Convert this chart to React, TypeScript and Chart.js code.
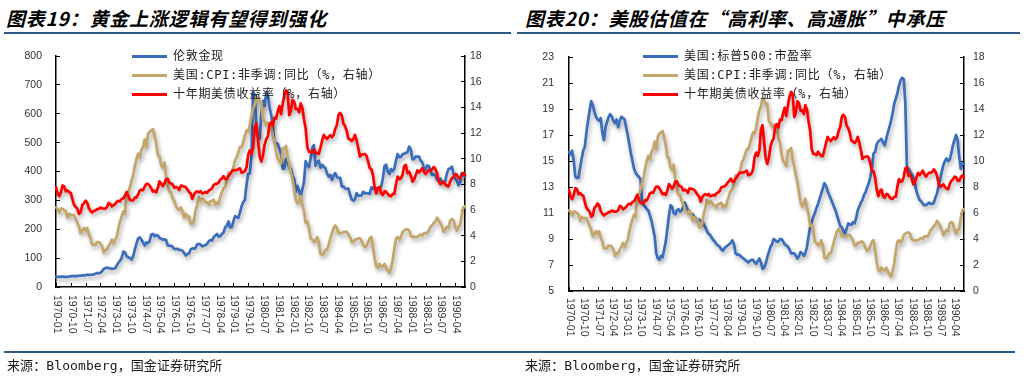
import React, { useEffect, useRef } from 'react';
import { Chart, registerables } from 'chart.js';

Chart.register(...registerables);

// ---------- categories (monthly, 1970-01 .. 1990-10) ----------
const FIRST_YEAR = 1970;
const MONTH_COUNT = 250;
const monthLabels: string[] = Array.from(
  { length: MONTH_COUNT },
  (_, i) => `${FIRST_YEAR + Math.floor(i / 12)}-${String((i % 12) + 1).padStart(2, '0')}`
);
const LABEL_EVERY = 9; // a tick label every 9 months

// ---------- series ----------
// 伦敦金现 (USD/oz)
const goldLondon = [
  34.9, 35.0, 35.1, 35.6, 35.9, 35.4, 35.3, 35.4, 36.2, 37.5, 37.4, 37.4,
  37.9, 38.7, 38.9, 39.0, 40.5, 40.1, 41.0, 42.7, 42.0, 42.5, 42.9, 43.5,
  45.8, 48.3, 48.3, 49.0, 54.6, 62.1, 65.7, 67.0, 65.5, 64.9, 62.9, 63.9,
  65.1, 74.2, 84.4, 90.5, 102.0, 122.5, 120.2, 106.8, 103.0, 100.1, 94.8, 106.7,
  129.2, 150.2, 168.4, 172.2, 163.3, 154.1, 143.0, 154.6, 151.8, 158.8, 181.7, 183.9,
  176.3, 179.6, 178.2, 170.1, 167.0, 164.2, 165.2, 163.1, 144.0, 142.8, 142.8, 139.3,
  131.6, 130.9, 132.6, 128.2, 128.1, 125.8, 117.6, 109.3, 114.3, 116.0, 130.3, 133.6,
  132.3, 136.4, 148.2, 149.2, 146.8, 140.8, 143.2, 144.7, 149.2, 158.5, 162.5, 160.5,
  173.2, 178.2, 183.7, 175.3, 176.3, 183.7, 188.7, 206.0, 212.0, 227.3, 206.1, 207.8,
  227.3, 245.7, 242.1, 239.2, 257.6, 279.1, 294.7, 300.8, 355.1, 391.7, 392.5, 455.1,
  675.3, 665.3, 553.6, 517.4, 513.8, 600.7, 645.0, 627.0, 673.6, 661.1, 623.5, 594.9,
  557.6, 500.5, 498.8, 495.8, 479.7, 460.8, 409.3, 410.1, 443.1, 437.8, 413.4, 410.1,
  384.1, 374.3, 330.5, 350.4, 333.7, 314.3, 339.0, 364.2, 435.6, 422.4, 414.8, 444.3,
  480.6, 491.6, 419.7, 432.8, 437.4, 413.0, 422.6, 416.5, 411.8, 393.6, 381.7, 388.3,
  370.9, 386.0, 394.6, 381.5, 377.5, 378.0, 347.7, 348.2, 341.1, 340.2, 341.2, 320.2,
  303.0, 298.9, 304.1, 325.3, 316.3, 316.7, 317.4, 329.7, 324.0, 325.2, 324.6, 322.4,
  345.4, 339.2, 345.6, 340.5, 342.2, 342.6, 348.7, 376.0, 418.9, 423.5, 398.4, 391.3,
  408.2, 401.0, 409.3, 438.4, 460.4, 449.6, 450.5, 460.3, 460.9, 465.2, 467.1, 486.3,
  477.3, 442.2, 443.6, 451.9, 451.4, 451.6, 437.5, 431.5, 413.4, 406.8, 420.8, 418.8,
  404.0, 388.0, 390.3, 384.5, 371.0, 367.6, 374.9, 365.1, 362.0, 367.1, 393.6, 409.2,
  410.1, 416.8, 393.1, 374.3, 369.0, 352.3, 362.5, 394.8, 389.3, 380.7,
];

// 美国:CPI:非季调:同比 (%)
const cpiYoY = [
  6.2, 6.1, 5.8, 6.1, 6.1, 6.0, 5.9, 5.4, 5.7, 5.6, 5.6, 5.6,
  5.3, 5.0, 4.7, 4.2, 4.4, 4.6, 4.4, 4.6, 4.1, 3.8, 3.3, 3.3,
  3.3, 3.5, 3.5, 3.4, 3.2, 2.7, 2.9, 2.9, 3.2, 3.4, 3.7, 3.4,
  3.7, 3.9, 4.6, 5.1, 5.5, 5.9, 5.7, 7.4, 7.4, 7.8, 8.3, 8.7,
  9.4, 10.0, 10.4, 10.1, 10.7, 10.9, 11.5, 10.9, 11.9, 12.1, 12.2, 12.3,
  11.8, 11.2, 10.3, 10.2, 9.5, 9.3, 9.7, 8.6, 7.9, 7.4, 7.4, 6.9,
  6.7, 6.3, 6.1, 6.0, 6.2, 5.9, 5.4, 5.7, 5.5, 5.5, 4.9, 4.9,
  5.2, 6.0, 6.4, 7.0, 6.7, 6.9, 6.8, 6.6, 6.6, 6.4, 6.7, 6.7,
  6.8, 6.4, 6.6, 6.5, 7.0, 7.4, 7.7, 7.8, 8.3, 8.9, 8.9, 9.0,
  9.3, 9.9, 10.1, 10.5, 10.9, 10.9, 11.3, 11.8, 12.2, 12.1, 12.6, 13.3,
  13.9, 14.2, 14.8, 14.7, 14.4, 14.4, 13.1, 12.9, 12.6, 12.8, 12.6, 12.5,
  11.8, 11.4, 10.5, 10.0, 9.8, 9.6, 10.8, 10.8, 11.0, 10.1, 9.6, 8.9,
  8.4, 7.6, 6.8, 6.5, 6.7, 7.1, 6.4, 5.9, 5.0, 5.1, 4.6, 3.8,
  3.7, 3.5, 3.6, 3.9, 3.5, 2.6, 2.5, 2.6, 2.9, 2.9, 3.3, 3.8,
  4.2, 4.6, 4.8, 4.6, 4.2, 4.2, 4.2, 4.3, 4.3, 4.3, 4.1, 3.9,
  3.5, 3.5, 3.7, 3.7, 3.8, 3.8, 3.6, 3.3, 3.1, 3.2, 3.5, 3.8,
  3.9, 3.1, 2.2, 1.6, 1.5, 1.8, 1.6, 1.6, 1.8, 1.5, 1.3, 1.1,
  1.5, 2.1, 3.0, 3.8, 3.9, 3.7, 3.9, 4.3, 4.4, 4.5, 4.5, 4.4,
  4.0, 3.9, 3.9, 3.9, 3.9, 4.0, 4.1, 4.0, 4.2, 4.2, 4.2, 4.4,
  4.7, 4.8, 5.0, 5.1, 5.4, 5.2, 5.0, 4.7, 4.3, 4.5, 4.7, 4.6,
  5.2, 5.3, 5.2, 4.7, 4.4, 4.7, 4.8, 5.6, 6.2, 6.3,
];

// 十年期美债收益率 (%)
const ust10y = [
  7.79, 7.24, 7.07, 7.39, 7.91, 7.84, 7.46, 7.53, 7.39, 7.33, 6.84, 6.39,
  6.24, 6.11, 5.70, 5.83, 6.39, 6.52, 6.73, 6.58, 6.14, 5.93, 5.81, 5.93,
  5.95, 6.08, 6.07, 6.19, 6.13, 6.11, 6.11, 6.21, 6.55, 6.48, 6.28, 6.36,
  6.46, 6.64, 6.71, 6.67, 6.85, 6.90, 7.13, 7.40, 7.09, 6.79, 6.73, 6.74,
  6.99, 6.96, 7.21, 7.51, 7.58, 7.54, 7.81, 8.04, 8.04, 7.90, 7.68, 7.43,
  7.50, 7.39, 7.73, 8.23, 8.06, 7.86, 8.06, 8.40, 8.43, 8.14, 8.05, 8.00,
  7.74, 7.79, 7.73, 7.56, 7.90, 7.86, 7.83, 7.77, 7.59, 7.41, 7.29, 6.87,
  7.21, 7.39, 7.46, 7.37, 7.46, 7.28, 7.33, 7.40, 7.34, 7.52, 7.58, 7.69,
  7.96, 8.03, 8.04, 8.15, 8.35, 8.46, 8.64, 8.41, 8.42, 8.64, 8.81, 9.01,
  9.10, 9.10, 9.12, 9.18, 9.25, 8.91, 8.95, 9.03, 9.33, 10.30, 10.65, 10.39,
  10.80, 12.41, 12.75, 11.47, 10.18, 9.78, 10.25, 11.10, 11.51, 11.75, 12.68, 12.84,
  12.57, 13.19, 13.12, 13.68, 14.10, 13.47, 14.28, 14.94, 15.32, 15.15, 13.39, 13.72,
  14.59, 14.43, 13.86, 13.87, 13.62, 14.30, 13.95, 13.06, 12.34, 10.91, 10.55, 10.54,
  10.46, 10.72, 10.51, 10.40, 10.38, 10.85, 11.38, 11.85, 11.65, 11.54, 11.69, 11.83,
  11.67, 11.84, 12.32, 12.63, 13.41, 13.56, 13.36, 12.72, 12.52, 12.16, 11.57, 11.50,
  11.38, 11.51, 11.86, 11.43, 10.85, 10.16, 10.31, 10.33, 10.37, 10.24, 9.78, 9.26,
  9.19, 8.70, 7.78, 7.30, 7.71, 7.80, 7.30, 7.17, 7.45, 7.43, 7.25, 7.11,
  7.08, 7.25, 7.25, 8.02, 8.61, 8.40, 8.45, 8.76, 9.42, 9.52, 8.86, 8.99,
  8.67, 8.21, 8.37, 8.72, 9.09, 8.92, 9.06, 9.26, 8.98, 8.80, 8.96, 9.11,
  9.09, 9.17, 9.36, 9.18, 8.86, 8.28, 8.02, 8.11, 8.19, 8.01, 7.87, 7.84,
  8.21, 8.47, 8.59, 8.79, 8.76, 8.48, 8.47, 8.75, 8.89, 8.72,
];

// 美国:标普500:市盈率
const spxPE = [
  15.7, 15.5, 15.8, 15.0, 13.8, 13.7, 13.7, 14.5, 15.2, 15.8, 16.1, 17.2,
  18.1, 18.9, 19.6, 19.3, 18.8, 18.4, 18.2, 18.1, 18.3, 17.2, 16.6, 17.6,
  18.0, 18.4, 18.6, 18.4, 18.1, 17.9, 18.2, 17.6, 18.1, 18.4, 18.3, 18.2,
  17.6, 17.0, 16.3, 15.6, 15.0, 14.4, 14.1, 13.9, 13.8, 13.6, 12.0, 11.6,
  11.5, 11.3, 11.2, 10.8, 10.4, 9.8, 9.2, 7.9, 7.5, 7.4, 7.7, 7.6,
  8.2, 8.8, 9.8, 10.8, 11.6, 11.5, 11.0, 10.9, 11.2, 11.3, 11.1, 11.2,
  11.5, 11.8, 11.5, 11.2, 11.0, 10.9, 10.9, 10.7, 10.6, 10.4, 10.5, 10.4,
  10.4, 10.1, 9.9, 9.6, 9.4, 9.3, 9.1, 8.9, 8.8, 8.6, 8.5, 8.4,
  8.2, 8.1, 8.3, 8.4, 8.5, 8.6, 8.7, 8.9, 8.6, 7.9, 7.8, 7.8,
  7.7, 7.6, 7.5, 7.4, 7.3, 7.2, 7.3, 7.4, 7.4, 7.2, 7.1, 7.3,
  7.5, 7.2, 6.7, 6.8, 7.1, 7.6, 8.0, 8.4, 8.6, 9.0, 8.9, 8.8,
  8.8, 9.0, 9.0, 8.8, 8.6, 8.5, 8.4, 8.2, 7.9, 7.9, 7.9, 7.7,
  7.5, 7.7, 8.0, 7.9, 7.7, 7.9, 8.4, 9.2, 9.9, 10.3, 10.7, 11.0,
  11.4, 11.7, 12.1, 12.5, 12.9, 13.3, 13.1, 12.7, 12.4, 12.1, 11.8, 11.5,
  11.2, 10.8, 10.4, 10.0, 9.9, 9.6, 9.4, 9.8, 10.2, 10.1, 10.1, 10.3,
  10.2, 10.6, 11.2, 11.5, 11.8, 12.0, 12.4, 12.6, 13.0, 13.3, 13.8, 14.5,
  15.6, 15.7, 16.3, 16.5, 16.6, 16.7, 16.4, 16.2, 16.7, 17.2, 17.6, 18.1,
  18.7, 19.4, 19.8, 20.2, 20.8, 21.2, 21.4, 21.3, 19.5, 14.6, 14.4, 14.2,
  14.0, 13.8, 13.3, 12.7, 12.3, 12.0, 11.9, 11.7, 11.6, 11.6, 11.7, 11.8,
  11.7, 11.7, 11.8, 12.2, 12.5, 13.1, 13.6, 14.2, 14.7, 15.0, 15.2, 15.0,
  15.1, 15.6, 16.2, 16.6, 17.0, 16.6, 15.3, 14.4, 14.8, 14.8,
];

// ---------- texts ----------
const TITLE_LEFT = '图表19：黄金上涨逻辑有望得到强化';
const TITLE_RIGHT = '图表20：美股估值在“高利率、高通胀”中承压';
const SOURCE_TEXT = '来源：Bloomberg，国金证券研究所';
const NAME_GOLD = '伦敦金现';
const NAME_PE = '美国:标普500:市盈率';
const NAME_CPI = '美国:CPI:非季调:同比（%，右轴）';
const NAME_YIELD = '十年期美债收益率（%，右轴）';

// ---------- styles ----------
const BLUE = '#3a6ebd';
const TAN = '#c4a66b';
const RED = '#ff0000';
const AXIS = '#000000';
const TICK_TEXT = '#333333';
const RULE = '#2d5b88';
const TICK_FAMILY = '"Liberation Sans", Arial, sans-serif';
const TICK_SIZE = 10.5;

const shadowPlugin = {
  id: 'lineShadow',
  beforeDatasetDraw(chart: any) {
    const c = chart.ctx;
    c.save();
    c.shadowColor = 'rgba(0,0,0,0.33)';
    c.shadowBlur = 4;
    c.shadowOffsetX = 1.5;
    c.shadowOffsetY = 3;
  },
  afterDatasetDraw(chart: any) {
    chart.ctx.restore();
  },
};

function makeXLabelPlugin(gap: number) {
  return {
    id: 'xRotLabels',
    afterDraw(chart: any) {
      const { ctx, chartArea } = chart;
      const xs = chart.scales.x;
      const labels = chart.data.labels as string[];
      ctx.save();
      ctx.strokeStyle = AXIS;
      ctx.lineWidth = 1;
      ctx.fillStyle = TICK_TEXT;
      ctx.font = `${TICK_SIZE}px ${TICK_FAMILY}`;
      ctx.textAlign = 'left';
      ctx.textBaseline = 'middle';
      for (let i = 0; i < labels.length; i += LABEL_EVERY) {
        const px = Math.round(xs.getPixelForValue(i)) + 0.5;
        ctx.beginPath();
        ctx.moveTo(px, chartArea.bottom);
        ctx.lineTo(px, chartArea.bottom - 4);
        ctx.stroke();
        ctx.save();
        ctx.translate(px, chartArea.bottom + gap);
        ctx.rotate(Math.PI / 2);
        ctx.fillText(labels[i], 0, 0);
        ctx.restore();
      }
      ctx.restore();
    },
  };
}

type PanelCfg = {
  top: number;
  xHeight: number;
  yWidth: number;
  y1Width: number;
  yMin: number;
  yMax: number;
  yStep: number;
  yPad: number;
  y1Pad: number;
  labelGap: number;
  mainName: string;
  mainData: number[];
};

function buildChart(canvas: HTMLCanvasElement, p: PanelCfg) {
  const border = { display: true, color: AXIS, width: 1.5 };
  const tickFont = { family: TICK_FAMILY, size: TICK_SIZE };
  return new Chart(canvas, {
    type: 'line',
    data: {
      labels: monthLabels,
      datasets: [
        { label: p.mainName, data: p.mainData, yAxisID: 'y', borderColor: BLUE, order: 3 },
        { label: NAME_CPI, data: cpiYoY, yAxisID: 'y1', borderColor: TAN, order: 2 },
        { label: NAME_YIELD, data: ust10y, yAxisID: 'y1', borderColor: RED, order: 1 },
      ],
    },
    options: {
      responsive: false,
      maintainAspectRatio: false,
      animation: false,
      events: [],
      layout: { padding: { top: p.top, left: 0, right: 0, bottom: 0 } },
      elements: {
        point: { radius: 0 },
        line: { tension: 0, borderWidth: 2.7, borderJoinStyle: 'round', borderCapStyle: 'round' },
      },
      plugins: { legend: { display: false }, tooltip: { enabled: false }, title: { display: false } },
      scales: {
        x: {
          type: 'category',
          ticks: { display: false },
          grid: { display: false },
          border,
          afterFit: (s: any) => {
            s.height = p.xHeight;
          },
        },
        y: {
          position: 'left',
          min: p.yMin,
          max: p.yMax,
          ticks: { stepSize: p.yStep, font: tickFont, color: TICK_TEXT, padding: p.yPad },
          grid: { display: true, drawOnChartArea: false, drawTicks: true, tickLength: -4, color: AXIS, lineWidth: 1 },
          border,
          afterFit: (s: any) => {
            s.width = p.yWidth;
          },
        },
        y1: {
          position: 'right',
          min: 0,
          max: 18,
          ticks: { stepSize: 2, font: tickFont, color: TICK_TEXT, padding: p.y1Pad },
          grid: { display: true, drawOnChartArea: false, drawTicks: true, tickLength: -4, color: AXIS, lineWidth: 1 },
          border,
          afterFit: (s: any) => {
            s.width = p.y1Width;
          },
        },
      },
    } as any,
    plugins: [shadowPlugin, makeXLabelPlugin(p.labelGap)],
  });
}

const legendFont = '"DejaVu Sans Mono", "Noto Sans CJK SC", sans-serif';

function Legend({ left, top, items }: { left: number; top: number; items: { name: string; color: string }[] }) {
  return (
    <>
      {items.map((it, i) => {
        const cy = top + i * 19;
        return (
          <React.Fragment key={i}>
            <div style={{ position: 'absolute', left, top: cy - 1.5, width: 35, height: 3, background: it.color }} />
            <div
              style={{
                position: 'absolute',
                left: left + 41,
                top: cy - 8,
                height: 16,
                lineHeight: '16px',
                fontSize: 12,
                letterSpacing: 0.7,
                fontFamily: legendFont,
                color: '#1a1a1a',
                whiteSpace: 'nowrap',
              }}
            >
              {it.name}
            </div>
          </React.Fragment>
        );
      })}
    </>
  );
}

const titleStyle: React.CSSProperties = {
  position: 'absolute',
  top: 7,
  height: 22,
  lineHeight: '22px',
  fontSize: 19,
  fontWeight: 700,
  fontStyle: 'italic',
  letterSpacing: 0.8,
  fontFamily: '"Noto Sans CJK SC", sans-serif',
  color: '#000',
  whiteSpace: 'nowrap',
};

const sourceStyle: React.CSSProperties = {
  position: 'absolute',
  top: 358,
  height: 16,
  lineHeight: '16px',
  fontSize: 13,
  letterSpacing: 0.1,
  fontFamily: '"DejaVu Sans Mono", "Noto Sans CJK SC", sans-serif',
  color: '#1a1a1a',
  whiteSpace: 'nowrap',
};

export default function App() {
  const leftRef = useRef<HTMLCanvasElement>(null);
  const rightRef = useRef<HTMLCanvasElement>(null);

  useEffect(() => {
    const charts: Chart[] = [];
    if (leftRef.current) {
      charts.push(
        buildChart(leftRef.current, {
          top: 56,
          xHeight: 92,
          yWidth: 56,
          y1Width: 47,
          yMin: 0,
          yMax: 800,
          yStep: 100,
          yPad: 18,
          y1Pad: 9,
          labelGap: 8,
          mainName: NAME_GOLD,
          mainData: goldLondon,
        })
      );
    }
    if (rightRef.current) {
      charts.push(
        buildChart(rightRef.current, {
          top: 57,
          xHeight: 88,
          yWidth: 57,
          y1Width: 60,
          yMin: 5,
          yMax: 23,
          yStep: 2,
          yPad: 19,
          y1Pad: 13,
          labelGap: 7,
          mainName: NAME_PE,
          mainData: spxPE,
        })
      );
    }
    return () => charts.forEach((c) => c.destroy());
  }, []);

  return (
    <div style={{ position: 'fixed', left: 0, top: 0, width: 1024, height: 379, background: '#fff', overflow: 'hidden' }}>
      {/* headers */}
      <div style={{ ...titleStyle, left: 6 }}>{TITLE_LEFT}</div>
      <div style={{ ...titleStyle, left: 525 }}>{TITLE_RIGHT}</div>
      <div style={{ position: 'absolute', left: 4, top: 32, width: 507, height: 2, background: RULE }} />
      <div style={{ position: 'absolute', left: 517, top: 32, width: 503, height: 2, background: RULE }} />

      {/* charts */}
      <canvas ref={leftRef} width={512} height={379} style={{ position: 'absolute', left: 0, top: 0, width: 512, height: 379 }} />
      <canvas ref={rightRef} width={512} height={379} style={{ position: 'absolute', left: 512, top: 0, width: 512, height: 379 }} />

      {/* legends */}
      <Legend
        left={132}
        top={56}
        items={[
          { name: NAME_GOLD, color: BLUE },
          { name: NAME_CPI, color: TAN },
          { name: NAME_YIELD, color: RED },
        ]}
      />
      <Legend
        left={643}
        top={56}
        items={[
          { name: NAME_PE, color: BLUE },
          { name: NAME_CPI, color: TAN },
          { name: NAME_YIELD, color: RED },
        ]}
      />

      {/* footers */}
      <div style={{ position: 'absolute', left: 4, top: 351, width: 508, height: 2, background: RULE }} />
      <div style={{ position: 'absolute', left: 512, top: 351, width: 503, height: 2, background: RULE }} />
      <div style={{ ...sourceStyle, left: 7 }}>{SOURCE_TEXT}</div>
      <div style={{ ...sourceStyle, left: 525 }}>{SOURCE_TEXT}</div>
    </div>
  );
}
